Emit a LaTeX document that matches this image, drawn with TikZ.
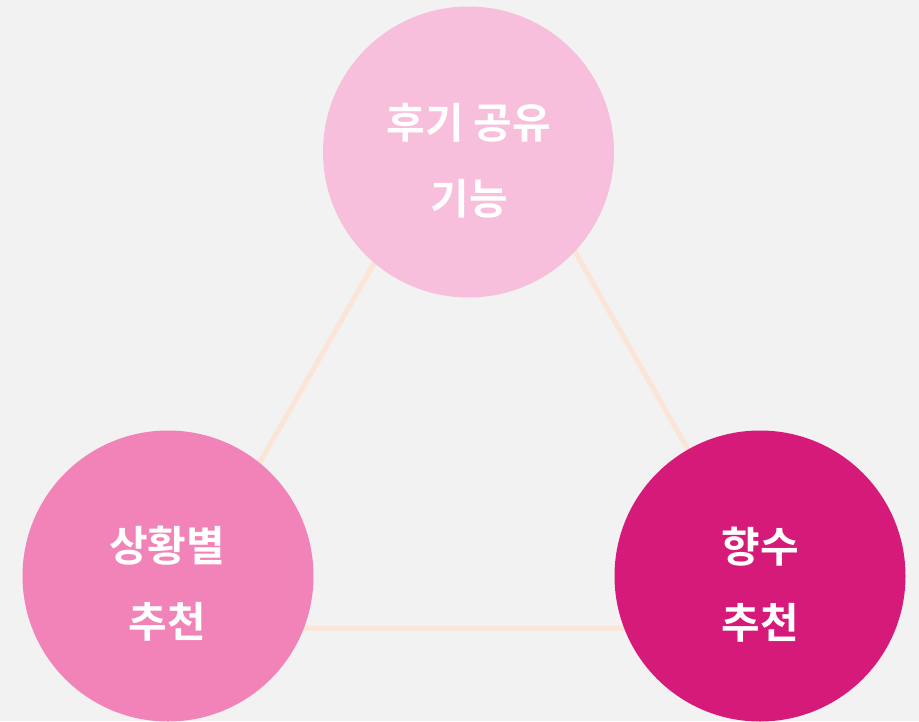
\documentclass[tikz,border=0pt]{standalone}
\usepackage{fontspec}
\newfontfamily\krfont{Noto Sans CJK KR}[BoldFont={* Bold}]
\definecolor{bgc}{HTML}{F2F2F2}
\definecolor{topc}{HTML}{F7BFDC}
\definecolor{leftc}{HTML}{F283B8}
\definecolor{rightc}{HTML}{D51A79}
\definecolor{linec}{HTML}{FBE5D6}
\tikzset{
  bubble/.style={circle, minimum size=291pt, inner sep=0pt, draw=none},
  edgeline/.style={draw=linec, line width=5pt},
  lbl/.style={text=white, align=center, font=\krfont\bfseries\fontsize{42}{76}\selectfont, inner sep=0pt}
}
\begin{document}
\begin{tikzpicture}[x=1pt,y=-1pt]
\fill[bgc] (0,0) rectangle (919,721);
\useasboundingbox (0,0) rectangle (919,721);
\coordinate (tA) at (478,82);
\coordinate (tB) at (165,628);
\coordinate (tC) at (790,628);
\draw[edgeline] (tA) -- (tB) -- (tC) -- cycle;
\node[bubble, fill=topc] (top) at (468.5,152) {};
\node[bubble, fill=leftc] (left) at (168,576) {};
\node[bubble, fill=rightc] (right) at (760,576) {};
\node[lbl] (toplbl) at (469,161) {후기 공유\\기능};
\node[lbl] (leftlbl) at (167,584) {상황별\\추천};
\node[lbl] (rightlbl) at (760,585) {향수\\추천};
\end{tikzpicture}
\end{document}
